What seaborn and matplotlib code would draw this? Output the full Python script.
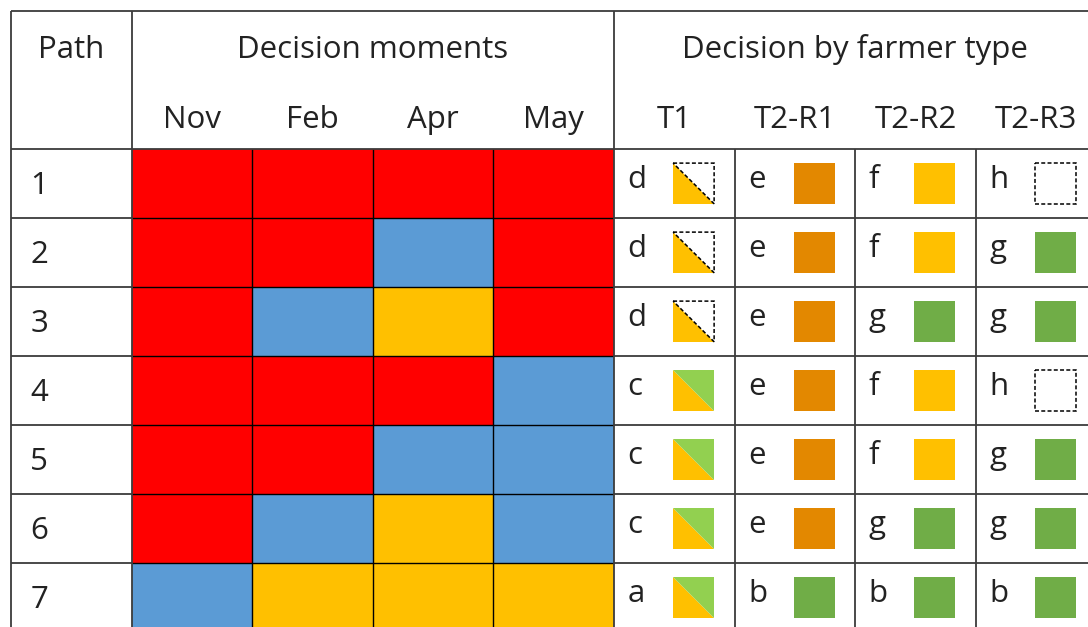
import numpy as np
import pandas as pd
import matplotlib
matplotlib.use("Agg")
import matplotlib.pyplot as plt
import seaborn as sns
from matplotlib.colors import ListedColormap
from matplotlib.patches import Polygon, Rectangle

# ---------------- data ----------------
paths = ["1", "2", "3", "4", "5", "6", "7"]
months = ["Nov", "Feb", "Apr", "May"]
nov = ["R", "R", "R", "R", "R", "R", "B"]
feb = ["R", "R", "B", "R", "R", "B", "Y"]
apr = ["R", "B", "Y", "R", "B", "Y", "Y"]
may = ["R", "R", "R", "B", "B", "B", "Y"]

farmer_types = ["T1", "T2-R1", "T2-R2", "T2-R3"]
t1 = ["d", "d", "d", "c", "c", "c", "a"]
t2r1 = ["e", "e", "e", "e", "e", "e", "b"]
t2r2 = ["f", "f", "g", "f", "f", "g", "b"]
t2r3 = ["h", "g", "g", "h", "g", "g", "b"]

moment_codes = ["R", "B", "Y"]
moment_colors = ["#FF0000", "#5B9BD5", "#FFC000"]

YELLOW = "#FFC000"
LGREEN = "#92D050"
GREEN = "#70AD47"
ORANGE = "#E38800"
decision_icons = {
    "a": ("split", YELLOW, LGREEN),
    "b": ("solid", GREEN, None),
    "c": ("split", YELLOW, LGREEN),
    "d": ("half", YELLOW, None),
    "e": ("solid", ORANGE, None),
    "f": ("solid", YELLOW, None),
    "g": ("solid", GREEN, None),
    "h": ("empty", None, None),
}

# ---------------- figure ----------------
sns.set_theme(style="white")
plt.rcParams["font.family"] = ["Open Sans", "DejaVu Sans"]
FS = 22.5
TXT = "#222222"

fig = plt.figure(figsize=(10.88, 6.27), dpi=100)
ax = fig.add_axes([0, 0, 1, 1])

n_rows = 2 + len(paths)
n_cols = 1 + len(months) + len(farmer_types)
grid = np.full((n_rows, n_cols), np.nan)
moment_df = pd.DataFrame({"Nov": nov, "Feb": feb, "Apr": apr, "May": may}, index=paths)
for j, m in enumerate(months):
    for i, v in enumerate(moment_df[m]):
        grid[2 + i, 1 + j] = moment_codes.index(v)

cmap = ListedColormap(moment_colors)
sns.heatmap(grid, mask=np.isnan(grid), cmap=cmap, vmin=-0.5, vmax=2.5,
            cbar=False, linewidths=0,
            xticklabels=False, yticklabels=False, ax=ax)

ax.set_xlim(-0.091, 8.93)
ax.set_ylim(8.928, -0.159)
ax.set_axis_off()

# black rules between the coloured decision-moment cells
m0, m1 = 1, 1 + len(months)
ax.vlines(np.arange(m0 + 1, m1), 2, n_rows, colors="black", lw=1.0, zorder=4)
ax.hlines(np.arange(3, n_rows), m0, m1, colors="black", lw=1.0, zorder=4)

# table rules
LC = "#3c3c3c"
LW = 1.3
ax.hlines([0, 2], 0, n_cols, colors=LC, lw=LW, zorder=5)
ax.hlines(np.arange(3, n_rows), 0, m0, colors=LC, lw=LW, zorder=5)
ax.hlines(np.arange(3, n_rows), m1, n_cols, colors=LC, lw=LW, zorder=5)
ax.vlines([0, m0, m1], 0, n_rows, colors=LC, lw=LW, zorder=5)
ax.vlines(np.arange(m1 + 1, n_cols), 2, n_rows, colors=LC, lw=LW, zorder=5)

# headers
ax.text(0.5, 0.68, "Path", ha="center", va="baseline", fontsize=FS, color=TXT)
ax.text(3.0, 0.68, "Decision moments", ha="center", va="baseline", fontsize=FS, color=TXT)
ax.text(7.0, 0.68, "Decision by farmer type", ha="center", va="baseline", fontsize=FS, color=TXT)
for j, m in enumerate(months):
    ax.text(1.5 + j, 1.70, m, ha="center", va="baseline", fontsize=FS, color=TXT)
for j, f in enumerate(farmer_types):
    ax.text(5.5 + j, 1.70, f, ha="center", va="baseline", fontsize=FS, color=TXT)

# path numbers
for i, p in enumerate(paths):
    ax.text(0.16, 2 + i + 0.65, p, ha="left", va="baseline", fontsize=FS, color=TXT)

# decisions
DASH = (0, (2.6, 1.5))
IW, IH = 0.34, 0.59
for j, col in enumerate([t1, t2r1, t2r2, t2r3]):
    cx = 5 + j
    for i, letter in enumerate(col):
        ry = 2 + i
        ax.text(cx + 0.11, ry + 0.56, letter, ha="left", va="baseline",
                fontsize=FS, color=TXT)
        kind, c1, c2 = decision_icons[letter]
        x0, y0 = cx + 0.49, ry + 0.205
        x1, y1 = x0 + IW, y0 + IH
        lower = [(x0, y0), (x0, y1), (x1, y1)]
        upper = [(x0, y0), (x1, y0), (x1, y1)]
        if kind == "solid":
            ax.add_patch(Rectangle((x0, y0), IW, IH, facecolor=c1, edgecolor="none", zorder=4))
        elif kind == "split":
            ax.add_patch(Polygon(lower, closed=True, facecolor=c1, edgecolor="none", zorder=4))
            ax.add_patch(Polygon(upper, closed=True, facecolor=c2, edgecolor="none", zorder=4))
        elif kind == "half":
            ax.add_patch(Polygon(lower, closed=True, facecolor=c1, edgecolor="none", zorder=4))
            ax.add_patch(Polygon(upper, closed=True, fill=False, edgecolor="black",
                                 lw=1.1, linestyle=DASH, zorder=4))
        else:
            ax.add_patch(Rectangle((x0, y0), IW, IH, fill=False, edgecolor="black",
                                   lw=1.1, linestyle=DASH, zorder=4))

fig.savefig("out.png", dpi=100)
